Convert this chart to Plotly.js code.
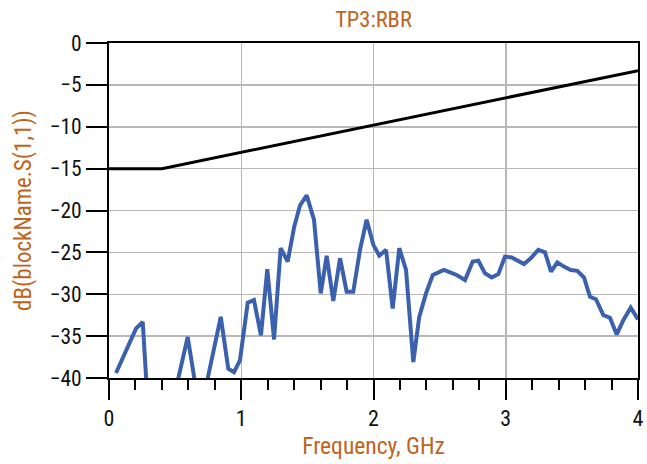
<!DOCTYPE html>
<html>
<head>
<meta charset="utf-8">
<script src="https://cdn.plot.ly/plotly-3.0.1.min.js"></script>
<style>
html,body{margin:0;padding:0;background:#fff;}
#chart{width:647px;height:464px;}
</style>
</head>
<body>
<div id="chart"></div>
<script>
var chartTitle = "TP3:RBR";
var xTitle = "Frequency, GHz";
var yTitle = "dB(blockName.S(1,1))";

var limitX = [0, 0.4, 4];
var limitY = [-15, -15, -3.3];

var s11X = [0.053,0.204,0.255,0.30,0.35,0.40,0.45,0.50,0.595,0.65,0.70,0.80,0.845,0.902,0.945,0.99,1.049,1.096,1.149,1.197,1.248,1.298,1.351,1.401,1.444,1.495,1.55,1.601,1.646,1.696,1.747,1.797,1.847,1.898,1.948,1.999,2.044,2.095,2.145,2.195,2.246,2.301,2.346,2.397,2.448,2.533,2.629,2.692,2.75,2.793,2.843,2.894,2.944,2.994,3.045,3.138,3.189,3.246,3.297,3.342,3.39,3.44,3.491,3.541,3.592,3.637,3.682,3.738,3.788,3.839,3.889,3.945,4.0];
var s11Y = [-39.4,-34.1,-33.3,-45,-48,-50,-47,-41.7,-35.1,-40.5,-43.5,-36.0,-32.7,-38.9,-39.3,-37.9,-31.0,-30.7,-34.9,-27.0,-35.4,-24.5,-26.1,-21.9,-19.4,-18.2,-21.1,-29.9,-25.4,-30.8,-25.7,-29.7,-29.7,-24.7,-21.1,-24.1,-25.4,-24.7,-31.7,-24.5,-27.1,-38.1,-32.7,-29.9,-27.7,-27.1,-27.7,-28.3,-26.1,-26.0,-27.5,-28.0,-27.6,-25.5,-25.6,-26.4,-25.7,-24.7,-25.0,-27.3,-26.2,-26.7,-27.1,-27.2,-28.0,-30.3,-30.6,-32.5,-32.8,-34.8,-33.1,-31.6,-33.0];

var xTickVals = [0, 1, 2, 3, 4];
var xTickText = ["0", "1", "2", "3", "4"];
var yTickVals = [0, -5, -10, -15, -20, -25, -30, -35, -40];
var yTickText = ["0", "\u22125", "\u221210", "\u221215", "\u221220", "\u221225", "\u221230", "\u221235", "\u221240"];

var orange = "#BE6420";
var narrow = "'Liberation Sans Narrow', 'Roboto Condensed', 'DejaVu Sans Condensed', Roboto, sans-serif";

var traces = [
  {x: limitX, y: limitY, type: "scatter", mode: "lines",
   line: {color: "#000000", width: 3}, hoverinfo: "skip"},
  {x: s11X, y: s11Y, type: "scatter", mode: "lines",
   line: {color: "#3A60AE", width: 4}, hoverinfo: "skip"}
];

var layout = {
  width: 647, height: 464,
  margin: {l: 109, r: 9, t: 43, b: 86},
  paper_bgcolor: "#ffffff", plot_bgcolor: "#ffffff",
  showlegend: false,
  title: {text: chartTitle, font: {family: narrow, size: 22.5, color: orange},
          x: 0.5, xref: "paper", y: 1 - 19.5/464, yref: "container", yanchor: "middle"},
  xaxis: {
    range: [0, 4], tickvals: xTickVals, ticktext: xTickText,
    showgrid: true, gridcolor: "#B8B8B8", gridwidth: 1.5,
    zeroline: false,
    showline: true, linecolor: "#000000", linewidth: 2, mirror: true,
    ticks: "outside", ticklen: 20, tickwidth: 2, tickcolor: "#000000",
    minor: {dtick: 0.2, ticks: "outside", ticklen: 10, tickwidth: 2, tickcolor: "#000000", showgrid: false},
    tickfont: {family: narrow, size: 22, color: "#111111"},
    title: {text: xTitle, font: {family: narrow, size: 23.5, color: orange}, standoff: 7},
    automargin: false, fixedrange: true
  },
  yaxis: {
    range: [-40, 0], tickvals: yTickVals, ticktext: yTickText,
    showgrid: true, gridcolor: "#B8B8B8", gridwidth: 1.5,
    zeroline: false,
    showline: true, linecolor: "#000000", linewidth: 2, mirror: true,
    ticks: "outside", ticklen: 21, tickwidth: 2, tickcolor: "#000000",
    tickfont: {family: narrow, size: 21.5, color: "#111111"},
    title: {text: yTitle, font: {family: narrow, size: 23, color: orange}, standoff: 12},
    automargin: false, fixedrange: true
  }
};

Plotly.newPlot("chart", traces, layout, {staticPlot: true, displayModeBar: false});
</script>
</body>
</html>
